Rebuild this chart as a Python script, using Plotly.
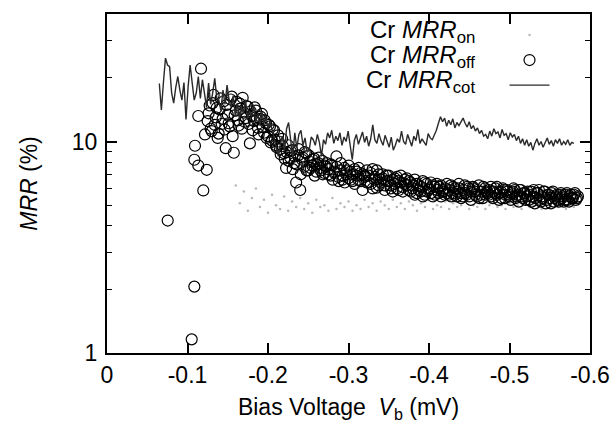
import numpy as np
import plotly.graph_objects as go

# ---------------- data ----------------
# Cr MRR_cot : dark noisy trace, bias sweep -0.065 .. -0.58 mV
cot_y = [18.8, 14.1, 19, 24.8, 23, 22.6, 17, 15.2, 18, 20.3, 17.5, 15.7, 19, 12.7, 18, 23.0, 19, 15.7, 17, 20.3,
         16, 19.6, 16.9, 14.5, 18.9, 15, 17, 19.9, 16, 15.7, 14, 17.5, 15, 18.5, 15.7,
         14.5, 16.5, 13.2, 15.2, 12.8, 14.6, 13.5, 15.8, 12.9, 14.0, 13.1, 14.8, 12.4, 13.6, 11.9, 13.8, 12.2, 12.9, 11.5, 12.4,
         11.2, 10.1, 9.4, 8.5, 9.8, 10.6, 9.0, 11.5, 12.3, 10.2, 8.4, 11.0, 9.3, 10.8, 11.3, 9.6, 10.4, 8.9, 9.1, 10.5,
         10.2, 9.6, 10.8, 9.9, 8.5, 10.2, 9.7, 11.0, 10.4, 11.3, 9.8, 10.6, 10.1, 11.0, 9.6, 10.5, 10.0, 11.2, 9.4, 8.2,
         10.1, 10.8, 9.7, 10.4, 11.1, 9.9, 10.6, 9.5, 10.3, 12.0, 10.2, 9.8, 10.9, 10.1, 9.6, 10.7, 10.0, 9.4, 10.5, 9.1,
         9.6, 10.3, 9.9, 11.2, 10.0, 9.7, 10.8, 10.2, 9.5, 10.6, 10.1, 11.4, 9.8, 10.3, 10.0, 9.6, 10.9, 10.4, 10.2, 10.7,
         11.3, 12.2, 13.1, 12.4, 12.9, 11.8, 12.6, 12.0, 12.8, 11.6, 12.3, 11.9, 12.5, 12.9, 12.2, 11.7, 12.4, 11.5, 11.9, 11.2,
         11.6, 10.9, 11.3, 10.6,
         10.8, 10.3, 11.2, 10.6, 11.5, 10.9, 11.1, 10.4, 11.4, 10.7, 10.9, 10.2, 11.0, 10.5, 10.8, 10.1, 10.6, 9.8, 10.3, 9.6,
         10.2, 9.5, 9.9, 9.1, 9.8, 10.3, 9.6, 10.0, 9.4, 9.9, 10.4, 9.7, 10.1, 9.5, 10.2, 9.8, 10.3, 9.6, 10.0, 9.7,
         10.2, 9.6, 9.9, 9.8]
cot_x = np.linspace(-0.065, -0.58, len(cot_y))   # bias sweep grid

# Cr MRR_off : open circles
off_x_early = [-0.0754, -0.1052, -0.1085, -0.1085, -0.1093, -0.1134, -0.1134, -0.1168, -0.1196, -0.1217, -0.1239]
off_y_early = [4.23, 1.16, 2.06, 8.2, 9.55, 7.7, 13.2, 22.1, 5.87, 10.8, 7.35]
off_y_main = [12.5, 14.8, 11.2, 16.6, 13.0, 10.4, 14.2, 12.1, 15.5, 9.3, 13.4, 11.8, 16.3, 8.85, 14.0, 12.6, 15.1, 11.5, 13.7, 12.9,
              14.6, 9.8, 13.2, 12.5, 14.0, 11.6, 12.8, 13.5, 11.0, 12.2, 10.6, 11.8, 10.1, 11.3, 9.6, 10.7, 9.2, 10.3, 8.8, 7.5,
              9.6, 8.4, 9.1, 7.9, 6.4, 8.6, 5.9, 8.2, 7.6, 8.8, 7.3, 8.0, 7.7, 8.3, 7.2, 7.9, 7.5, 8.1, 7.1, 7.6,
              7.4, 6.9, 7.7, 7.1, 8.5, 6.8, 7.3, 6.6, 7.5, 7.0, 6.7, 7.2, 6.5, 7.4, 6.9, 6.6, 7.1, 5.9, 6.8, 6.4,
              6.9, 6.3, 7.4, 6.6, 6.05, 7.0, 6.4, 6.7, 6.2, 6.9, 6.5, 6.0, 6.6, 6.3, 6.8, 5.9, 6.4, 6.1, 6.6, 6.2,
              6.5, 5.8, 6.2, 5.6, 6.3, 5.9, 6.1, 5.5, 6.4, 5.8, 6.0, 5.7, 6.2, 5.6, 5.9, 6.1, 5.5, 5.8, 6.0, 5.7,
              5.9, 5.5, 6.1, 5.6, 5.8, 6.0, 5.4, 5.9, 5.7, 6.1, 5.5, 5.8, 6.0, 5.6, 5.9, 5.4, 5.8, 6.1, 5.6, 5.7,
              5.9, 5.5, 5.8, 6.0, 5.6, 5.7, 5.4, 5.9, 5.6, 5.8, 5.5, 5.7, 6.0, 5.4, 5.6, 5.9, 5.5, 5.7, 5.3, 5.8,
              5.6, 5.2, 5.9, 5.4, 5.7, 5.3, 5.5, 5.8, 5.1, 5.6, 5.4, 5.7, 5.2, 5.5, 5.3, 5.6, 5.4, 5.2, 5.6, 5.3,
              5.5, 5.4, 5.6, 5.3, 5.5]
off_x_main = np.linspace(-0.125, -0.585, len(off_y_main))   # bias sweep grid
off_y_main2 = [13.6, 11.5, 15.2, 12.0, 14.4, 10.9, 16.0, 12.8, 11.4, 14.9, 12.2, 15.8, 10.6, 13.3, 15.4, 11.9, 14.3, 16.1, 12.4, 14.7,
               12.1, 13.9, 11.3, 14.5, 12.7, 10.8, 13.1, 11.7, 12.6, 10.4, 12.0, 9.9, 11.4, 10.2, 9.4, 10.0, 8.7, 9.5, 8.3, 8.9,
               8.1, 9.0, 7.4, 8.5, 7.8, 9.2, 7.0, 8.4, 8.9, 7.3, 8.6, 7.5, 8.2, 6.9, 7.8, 8.4, 7.3, 7.0, 7.7, 7.9,
               7.0, 7.8, 6.6, 7.2, 7.6, 6.5, 7.9, 6.9, 6.4, 7.3, 7.7, 6.6, 7.0, 6.3, 7.2, 7.5, 6.5, 7.0, 6.9, 7.3,
               6.4, 7.1, 6.0, 6.8, 7.3, 6.2, 6.6, 7.0, 5.9, 6.5, 6.9, 6.2, 5.8, 6.7, 6.0, 6.5, 6.9, 5.8, 6.3, 6.7,
               5.9, 6.4, 6.0, 6.6, 5.7, 6.2, 5.8, 6.5, 5.6, 6.3, 5.9, 6.4, 5.5, 6.1, 6.3, 5.7, 6.2, 5.9, 5.6, 6.3,
               5.6, 6.2, 5.7, 6.0, 5.5, 6.3, 5.7, 5.5, 6.2, 5.6, 6.0, 5.3, 6.1, 5.8, 5.5, 6.2, 5.6, 5.4, 6.0, 5.8,
               5.6, 6.1, 5.4, 5.7, 6.1, 5.3, 5.8, 6.0, 5.4, 5.9, 5.6, 5.3, 5.8, 5.9, 5.5, 5.2, 5.9, 5.4, 5.7, 5.5,
               5.3, 5.8, 5.5, 5.1, 5.7, 5.9, 5.2, 5.4, 5.8, 5.3, 5.6, 5.1, 5.8, 5.4, 5.6, 5.2, 5.7, 5.5, 5.3, 5.7,
               5.2, 5.6, 5.4, 5.7, 5.4]
off_x_main2 = np.linspace(-0.12625, -0.58375, len(off_y_main2))   # interleaved sweep grid
off_x = list(off_x_early) + list(off_x_main) + list(off_x_main2)
off_y = off_y_early + off_y_main + off_y_main2

# Cr MRR_on : faint gray points
on_y = [6.2, 5.1, 5.8, 4.7, 5.4, 6.0, 4.9, 5.3, 4.6, 5.6,
        5.0, 4.8, 5.5, 4.7, 5.2, 4.9, 5.4, 4.8, 5.1, 4.6,
        5.3, 4.9, 5.0, 4.7, 5.4, 4.8, 5.1, 4.9, 5.2, 4.7,
        5.0, 4.8, 5.3, 4.9, 5.1, 4.7, 5.2, 5.0, 4.8, 5.3,
        4.9, 5.1, 4.8, 5.2, 5.0, 4.7, 5.1, 4.9, 5.3, 4.8,
        5.0, 4.9, 5.2, 4.8, 5.1, 4.9, 5.0, 5.2, 4.8, 5.0,
        4.9, 5.1, 4.8, 5.0, 5.2, 4.9, 5.0, 4.8, 5.1, 4.9,
        5.0, 4.8, 5.1, 4.9, 5.0, 5.2, 4.8, 5.0, 4.9, 5.1,
        4.9, 5.0, 4.8, 5.1, 4.9]
on_x = np.linspace(-0.16, -0.58, len(on_y))   # bias sweep grid

x_ticks = [0, -0.1, -0.2, -0.3, -0.4, -0.5, -0.6]
x_ticktext = ["0", "-0.1", "-0.2", "-0.3", "-0.4", "-0.5", "-0.6"]
y_ticks = [1, 10]
y_ticktext = ["1", "10"]
y_minor = [2, 3, 4, 5, 6, 7, 8, 9, 20, 30]

legend_labels = ["Cr <i>MRR</i><sub>on</sub>", "Cr <i>MRR</i><sub>off</sub>", "Cr <i>MRR</i><sub>cot</sub>"]

# ---------------- figure ----------------
FONT = "Liberation Sans, Arial, sans-serif"
Y_RANGE = [0, 1.603]
fig = go.Figure()
fig.add_trace(go.Scatter(x=on_x, y=on_y, mode="markers", name=" ",
                         marker=dict(size=2.5, color="#b8b8b8")))
fig.add_trace(go.Scatter(x=off_x, y=off_y, mode="markers", name=" ",
                         marker=dict(symbol="circle-open", size=11, color="black", line=dict(width=1.2))))
fig.add_trace(go.Scatter(x=cot_x, y=cot_y, mode="lines", name=" ",
                         line=dict(color="#2a2a2a", width=1.4)))

for i, lab in enumerate(legend_labels):
    fig.add_annotation(xref="paper", yref="paper", x=0.766, y=0.948 - i * 0.0735,
                       text=lab, showarrow=False, xanchor="right", yanchor="middle",
                       font=dict(family=FONT, size=24, color="black"))

fig.update_layout(
    width=616, height=425,
    margin=dict(l=107, r=26, t=14, b=72),
    paper_bgcolor="white", plot_bgcolor="white",
    font=dict(family=FONT, size=23, color="black"),
    showlegend=True,
    legend=dict(x=0.823, y=0.99, xanchor="left", yanchor="top", bgcolor="rgba(0,0,0,0)",
                font=dict(size=17), tracegroupgap=0, itemwidth=40),
    xaxis=dict(range=[0, -0.6], tickmode="array", tickvals=x_ticks, ticktext=x_ticktext,
               ticks="inside", ticklen=10, tickwidth=1.5, tickcolor="black",
               showline=True, linewidth=2, linecolor="black", mirror="ticks",
               showgrid=False, zeroline=False, automargin=False,
               title=dict(text="Bias Voltage  <i>V</i><sub>b</sub> (mV)", standoff=12,
                          font=dict(size=23))),
    yaxis=dict(type="log", range=Y_RANGE, tickmode="array", tickvals=y_ticks, ticktext=y_ticktext,
               ticks="inside", ticklen=10, tickwidth=1.5, tickcolor="black",
               minor=dict(tickmode="array", tickvals=y_minor, ticks="inside", ticklen=5,
                          tickwidth=1.2, tickcolor="black"),
               showline=True, linewidth=2, linecolor="black", mirror="ticks",
               showgrid=False, zeroline=False, automargin=False, ticklabelstandoff=3,
               title=dict(text="<i>MRR</i> (%)", standoff=28, font=dict(size=23))),
)

fig.write_html("out.html")
